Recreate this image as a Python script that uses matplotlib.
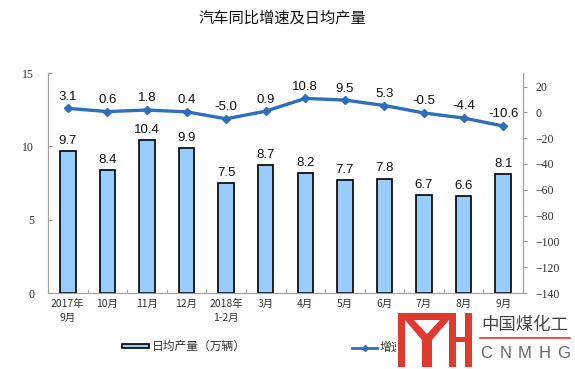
import matplotlib
matplotlib.use("Agg")
import matplotlib.pyplot as plt
from matplotlib.patches import Rectangle, Polygon
from matplotlib.lines import Line2D
import numpy as np

plt.rcParams['font.family'] = ['Noto Sans CJK SC', 'DejaVu Sans']

# Data
categories = ["2017年\n9月", "10月", "11月", "12月", "2018年\n1-2月", "3月",
              "4月", "5月", "6月", "7月", "8月", "9月"]
daily_output = [9.7, 8.4, 10.4, 9.9, 7.5, 8.7, 8.2, 7.7, 7.8, 6.7, 6.6, 8.1]
growth = [3.1, 0.6, 1.8, 0.4, -5.0, 0.9, 10.8, 9.5, 5.3, -0.5, -4.4, -10.6]

W, H = 575, 369


def px(x, y):
    return (x / W, 1 - y / H)


fig = plt.figure(figsize=(W / 100, H / 100), dpi=100)
ax = fig.add_axes([48 / W, 1 - 293 / H, (523 - 48) / W, (293 - 73) / H])
ax2 = ax.twinx()

x = np.arange(len(categories))
ax.bar(x, daily_output, width=0.39, color="#99ccff", edgecolor="black", linewidth=1.2, zorder=2)
for xi, v in zip(x, daily_output):
    ax.annotate(f"{v:.1f}", (xi, v), xytext=(0, 3), textcoords="offset points",
                ha="center", va="bottom", fontsize=9.5, family="Liberation Sans", color="#111")

line_color = "#2f6eba"
ax2.plot(x, growth, color=line_color, lw=2.4, marker="D", markersize=4.5, zorder=3)
for xi, v in zip(x, growth):
    ax2.annotate(f"{v:.1f}", (xi, v), xytext=(0, 4), textcoords="offset points",
                 ha="center", va="bottom", fontsize=9.5, family="Liberation Sans", color="#111")

ax.set_xlim(-0.5, len(categories) - 0.5)
ax.set_ylim(0, 15)
ax.set_yticks([0, 5, 10, 15])
ax2.set_ylim(-140, 30.5)
ax2.set_yticks(range(-140, 21, 20))

ax.set_xticks(x)
ax.set_xticklabels(categories, fontsize=7.5, color="#333", linespacing=1.5)
ax.set_xticks(np.arange(-0.5, len(categories), 1), minor=True)
ax.tick_params(axis="x", which="major", length=0, pad=4)
ax.tick_params(axis="x", which="minor", direction="in", length=3, color="#999")
ax.tick_params(axis="y", direction="in", length=3, color="#999", pad=10,
               labelfontfamily="Liberation Serif", labelsize=8.5, labelcolor="#333")
ax2.tick_params(axis="y", direction="out", length=3, color="#999", pad=6,
                labelfontfamily="Liberation Serif", labelsize=8.5, labelcolor="#333")

for a in (ax, ax2):
    a.spines["top"].set_visible(False)
    for s in ("left", "right", "bottom"):
        a.spines[s].set_color("#a0a0a0")
        a.spines[s].set_linewidth(0.8)

fig.text(282 / W, 1 - 18 / H, "汽车同比增速及日均产量", ha="center", va="center", fontsize=11, color="#111")

# Legend
fig.add_artist(Rectangle(px(122, 348), 27 / W, 4 / H, facecolor="#99ccff", edgecolor="black", lw=1.2))
fig.text(152 / W, 1 - 346 / H, "日均产量（万辆）", va="center", fontsize=8.5, color="#333")
fig.add_artist(Line2D([352 / W, 364.5 / W, 377 / W], [1 - 348 / H] * 3, color=line_color, lw=2,
                      marker="D", markersize=3, markevery=[1], transform=fig.transFigure))
fig.text(380 / W, 1 - 347 / H, "增速（%，右轴）", va="center", fontsize=8.5, color="#333")

# Watermark logo
fig.add_artist(Rectangle(px(396, 369), 179 / W, 58 / H, facecolor="white", edgecolor="none", zorder=5))
red = "#e03a2e"
shapes = [
    [(398, 313), (405, 313), (405, 367), (398, 367)],
    [(398, 313), (456, 313), (456, 320), (398, 320)],
    [(405, 320), (414, 320), (427, 334), (440, 320), (449, 320), (432, 340), (432, 367),
     (422, 367), (422, 340)],
    [(449, 313), (456, 313), (456, 367), (449, 367)],
    [(465, 313), (472, 313), (472, 367), (465, 367)],
    [(456, 337), (465, 337), (465, 342), (456, 342)],
]
for pts in shapes:
    fig.add_artist(Polygon([px(a, b) for a, b in pts], closed=True, facecolor=red,
                           edgecolor="none", zorder=6))
fig.text(525 / W, 1 - 325 / H, "中国煤化工", ha="center", va="center", fontsize=12.5, color="#444", zorder=6)
fig.add_artist(Line2D([480 / W, 570 / W], [1 - 338 / H] * 2, color=red, lw=1.2,
                      transform=fig.transFigure, zorder=6))
for i, ch in enumerate("CNMHG"):
    fig.text((486 + i * 19.5) / W, 1 - 353 / H, ch, ha="center", va="center",
             fontsize=12, color="#666", family="Liberation Sans", zorder=6)

fig.savefig("out.png", dpi=100)
